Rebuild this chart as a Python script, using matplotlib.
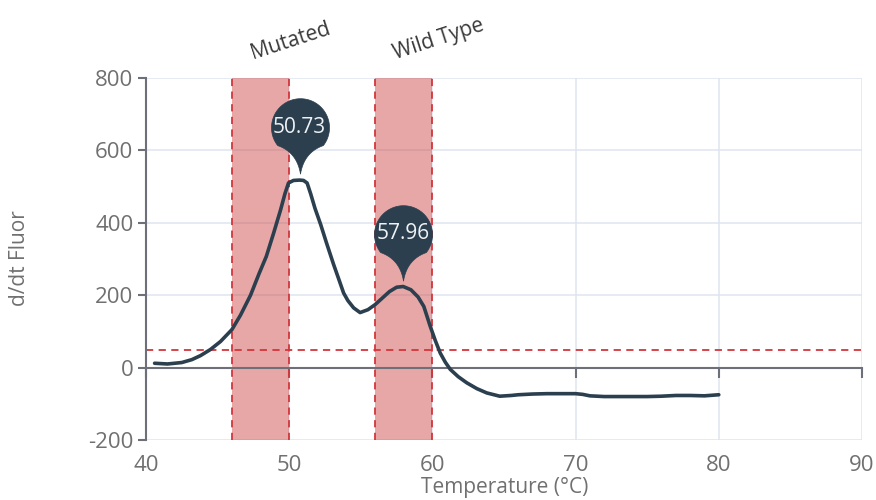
import numpy as np
import matplotlib
matplotlib.use("Agg")
import matplotlib.pyplot as plt
from matplotlib.path import Path

plt.rcParams['font.family'] = ['Open Sans', 'DejaVu Sans']
plt.rcParams['axes.unicode_minus'] = False

# melt curve derivative (d/dt Fluor vs temperature)
temp = [40.6, 41.5, 42.5, 43.2, 43.8, 44.5, 45.2, 46.0, 46.6, 47.3, 47.9, 48.4, 48.9, 49.4,
        49.7, 49.95, 50.3, 50.73, 51.0, 51.25, 51.5, 51.8, 52.2, 52.6, 53.1, 53.5, 53.8,
        54.1, 54.5, 54.95, 55.5, 56.0, 56.5, 57.0, 57.5, 57.96, 58.5, 59.0, 59.4, 59.85,
        60.2, 60.55, 60.9, 61.25, 61.8, 62.4, 63.1, 63.8, 64.7, 65.5, 66, 67, 68, 69, 70,
        70.5, 71, 72, 73, 74, 75, 76, 77, 78, 79, 80]
fluor = [12, 10, 14, 22, 33, 50, 72, 105, 145, 200, 260, 307, 370, 436,
         480, 510, 517, 518, 517, 510, 480, 440, 395, 345, 285, 240, 206,
         185, 165, 152, 160, 174, 192, 210, 222, 224, 215, 195, 169, 114,
         75, 40, 15, -5, -25, -42, -58, -70, -79, -77, -75, -73, -72, -72, -72,
         -74, -78, -80, -80, -80, -80, -79, -77, -77, -78, -75]

# melting peaks
peak_temp = [50.73, 57.96]
peak_val = [518, 224]

# genotype windows
regions = [(46, 50), (56, 60)]
region_names = ['Mutated', 'Wild Type']
threshold = 48

line_col = '#2b3f4f'
red = '#d2363c'
axis_col = '#6e7079'
grid_col = '#e0e6f1'
label_col = '#707070'

fig = plt.figure(figsize=(8.76, 5.0), dpi=100)
ax = fig.add_axes([146 / 876, 1 - 440 / 500, (862 - 146) / 876, (440 - 78) / 500])

ax.set_xlim(40, 90)
ax.set_ylim(-200, 800)
ax.set_xticks([40, 50, 60, 70, 80, 90])
ax.set_yticks([-200, 0, 200, 400, 600, 800])

ax.grid(True, color=grid_col, linewidth=1.2, zorder=0)
ax.set_axisbelow(True)

for s in ['top', 'right']:
    ax.spines[s].set_visible(False)
ax.spines['left'].set_color(axis_col)
ax.spines['left'].set_linewidth(1.5)
ax.spines['bottom'].set_position(('data', 0))
ax.spines['bottom'].set_color(axis_col)
ax.spines['bottom'].set_linewidth(1.5)
ax.spines['bottom'].set_zorder(1)

ax.tick_params(axis='y', colors=axis_col, labelcolor=label_col, labelsize=16,
               length=6, width=1.5, pad=3)
ax.tick_params(axis='x', colors=axis_col, labelbottom=False, length=7, width=1.5)

# tick labels sit at the bottom while the axis line runs through zero
sec = ax.secondary_xaxis(0)
sec.set_xticks([40, 50, 60, 70, 80, 90])
sec.tick_params(length=0, labelsize=16, labelcolor=label_col, pad=11)
sec.spines['bottom'].set_visible(False)

fig.text(505 / 876, 1 - 488 / 500, 'Temperature (°C)', ha='center', va='center',
         fontsize=15, color=label_col)
fig.text(20 / 876, 1 - 258 / 500, 'd/dt Fluor', rotation=90, ha='center', va='center',
         fontsize=15, color=label_col)

# shaded windows with dashed edges
for (lo, hi), name in zip(regions, region_names):
    ax.axvspan(lo, hi, color=(0.80, 0.24, 0.24), alpha=0.45, lw=0, zorder=1)
    for xv in (lo, hi):
        ax.axvline(xv, color=red, lw=1.3, ls=(0, (4, 3)), zorder=2)
    ax.text(lo + 1.55, 838, name, rotation=18, rotation_mode='anchor',
            ha='left', va='bottom', fontsize=15, color='#3a3a3a', clip_on=False)

ax.axhline(threshold, color=red, lw=1.3, ls=(0, (4, 3)), zorder=2)

ax.plot(temp, fluor, color=line_col, lw=2.6, solid_capstyle='round',
        solid_joinstyle='round', zorder=3)

# pin-shaped markers on the peaks (tip at the origin, head above it)
r, h, g = 1.0, 1.6, 0.22
a = np.radians(np.linspace(-38, 218, 60))
head = np.column_stack([r * np.cos(a), g + h + r * np.sin(a)])
t = np.linspace(0, 1, 20)[:, None]
p0 = head[-1]
tip = np.array([0.0, g])
ctrl_l = np.array([-0.12, g + 0.75])
left_side = (1 - t) ** 2 * p0 + 2 * (1 - t) * t * ctrl_l + t ** 2 * tip
p1 = head[0]
ctrl_r = np.array([0.12, g + 0.75])
right_side = (1 - t) ** 2 * tip + 2 * (1 - t) * t * ctrl_r + t ** 2 * p1
verts = np.vstack([head, left_side[1:], right_side[1:]])
pin = Path(verts, closed=False)
top = g + h + r
px_per_unit = 29
msize = 2 * top * px_per_unit * 72 / 100

ax.plot(peak_temp, peak_val, ls='none', marker=pin, markersize=msize,
        markerfacecolor=line_col, markeredgecolor=line_col, markeredgewidth=0.5,
        zorder=4, clip_on=False)
for xv, yv in zip(peak_temp, peak_val):
    ax.annotate(f'{xv:.2f}', (xv, yv), xytext=(0, (g + h) * px_per_unit * 0.72),
                textcoords='offset points', ha='center', va='center',
                fontsize=15, color='#eef2f5', zorder=5, annotation_clip=False)

fig.savefig('out.png', dpi=100)
